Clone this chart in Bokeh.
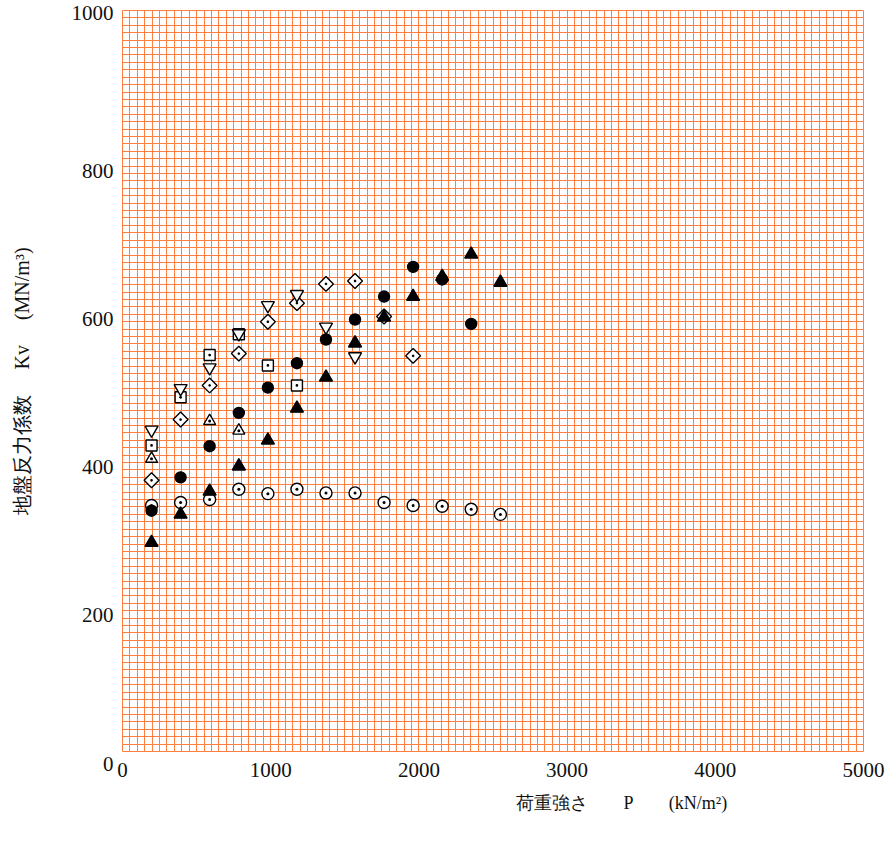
from bokeh.plotting import figure
from bokeh.models import FixedTicker, Title, Range1d
from bokeh.embed import file_html
from bokeh.resources import INLINE

# Load intensity P (kN/m2)
P = [196, 392, 588, 785, 981, 1177, 1373, 1569, 1765, 1961, 2157, 2353, 2550]

# Kv (MN/m3) per series
kv_circle = [325, 370, 412, 457, 491, 524, 556, 583, 614, 654, 637, 577]
kv_triangle = [282, 320, 351, 385, 420, 463, 505, 551, 586, 614, 641, 671, 633]
kv_circle_dot = [332, 336, 340, 354, 348, 354, 349, 349, 336, 332, 331, 327, 320]
kv_square_dot = [413, 478, 535, 563, 521, 494]
kv_inv_triangle = [434, 490, 518, 564, 602, 617, 573, 533]
P_tri_dot = [196, 588, 785]
kv_tri_dot = [395, 446, 433]
kv_diamond_dot = [366, 448, 494, 537, 580, 605, 631, 635, 587, 534]

x_ticks = [0, 1000, 2000, 3000, 4000, 5000]
y_ticks = [0, 200, 400, 600, 800, 1000]
x_label = "荷重強さ　　P　　(kN/m²)"
y_label = "地盤反力係数　 Kv　 (MN/m³)"

GRID = "#ff7f40"
FONT = "Liberation Serif"
TXT = "#111111"

p = figure(width=885, height=835, x_range=Range1d(0, 5000), y_range=Range1d(0, 1000),
           output_backend="svg", toolbar_location=None,
           min_border_left=122, min_border_right=22, min_border_top=10, min_border_bottom=84)

p.xgrid.ticker = FixedTicker(ticks=list(range(0, 5001, 50)))
p.ygrid.ticker = FixedTicker(ticks=list(range(0, 1001, 10)))
for g in (p.xgrid, p.ygrid):
    g.grid_line_color = GRID
    g.grid_line_width = 1
    g.grid_line_alpha = 1.0
p.outline_line_color = GRID

p.xaxis.ticker = FixedTicker(ticks=x_ticks)
p.yaxis.ticker = FixedTicker(ticks=y_ticks)
for ax in (p.xaxis, p.yaxis):
    ax.axis_line_color = None
    ax.major_tick_line_color = None
    ax.minor_tick_line_color = None
    ax.major_tick_out = 0
    ax.major_tick_in = 0
    ax.major_label_text_font = FONT
    ax.major_label_text_font_size = "21px"
    ax.major_label_text_color = TXT

p.xaxis.major_label_standoff = 11
p.yaxis.major_label_standoff = 9
# y tick labels sit slightly below their grid line in the reference
p.yaxis.major_label_text_line_height = 1.0
p.yaxis.major_label_overrides = {v: ("\n" + str(v) if v < 1000 else str(v)) for v in y_ticks}

p.yaxis.axis_label = y_label
p.yaxis.axis_label_text_font = FONT
p.yaxis.axis_label_text_font_size = "20px"
p.yaxis.axis_label_text_font_style = "normal"
p.yaxis.axis_label_text_color = TXT
p.yaxis.axis_label_standoff = 36

t = Title(text=x_label, align="left", offset=393, text_font=FONT, text_font_size="18px",
          text_font_style="normal", text_color=TXT, standoff=22)
p.add_layout(t, "below")

LW = 1.4
p.scatter(P[:len(kv_circle_dot)], kv_circle_dot, marker="circle_dot", size=12,
          fill_color="white", line_color="black", line_width=LW)
p.scatter(P[:len(kv_diamond_dot)], kv_diamond_dot, marker="square_dot", angle=0.785398, size=10.5,
          fill_color="white", line_color="black", line_width=LW)
p.scatter(P_tri_dot, kv_tri_dot, marker="triangle_dot", size=12,
          fill_color="white", line_color="black", line_width=LW)
p.scatter(P[:len(kv_square_dot)], kv_square_dot, marker="square_dot", size=11,
          fill_color="white", line_color="black", line_width=LW)
p.scatter(P[:len(kv_inv_triangle)], kv_inv_triangle, marker="inverted_triangle", size=13,
          fill_color="white", line_color="black", line_width=LW)
p.scatter(P[:len(kv_circle)], kv_circle, marker="circle", size=11,
          fill_color="black", line_color="black", line_width=LW)
p.scatter(P[:len(kv_triangle)], kv_triangle, marker="triangle", size=13,
          fill_color="black", line_color="black", line_width=LW)

open("out.html", "w").write(file_html(p, INLINE))
